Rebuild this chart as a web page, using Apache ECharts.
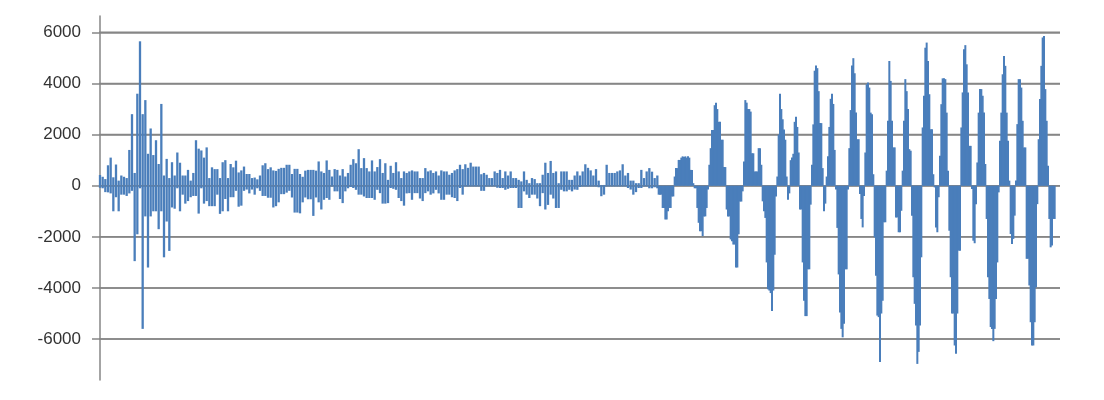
<!DOCTYPE html>
<html><head><meta charset="utf-8">
<script src="https://cdn.jsdelivr.net/npm/echarts@6/dist/echarts.min.js"></script>
<style>html,body{margin:0;padding:0;background:#fff}#c{width:1104px;height:400px}</style>
</head><body><div id="c"></div>
<script>
const tickValues = [-6000,-4000,-2000,0,2000,4000,6000];
const hiLeft = [420,350,260,800,1100,330,830,200,400,350,300,1400,2800,500,3600,5650,2800,3350,1250,2240,1200,1780,850,3200,400,1050,300,920,400,1300,900,400,400,620,200,500,1780,1450,1380,1100,1500,300,720,650,650,300,920,1000,300,850,720,980,520,600,750,460,460,300,320,250,400,800,880,650,720,600,580,660,700,700,820,820,460,660,660,460,350,590,620,620,620,590,950];
const loLeft = [-80,-100,-250,-260,-300,-1000,-450,-1000,-350,-350,-400,-300,-200,-2950,-1900,-100,-5600,-1200,-3200,-1200,-1000,-1000,-1700,-1000,-2800,-1400,-2550,-850,-900,-100,-1000,-350,-700,-600,-450,-400,-400,-1090,-100,-700,-600,-800,-800,-800,-350,-1100,-1000,-520,-1000,-450,-450,-200,-820,-780,-200,-150,-300,-150,-350,-100,-200,-400,-400,-470,-470,-850,-800,-650,-330,-330,-270,-200,-460,-1050,-1050,-1080,-650,-460,-530,-530,-1180,-460,-650];
const hiMid = [560,500,990,620,360,650,620,400,650,360,500,820,1040,880,1430,690,1080,690,560,990,560,730,1040,500,880,230,780,500,920,560,300,560,500,560,600,560,560,300,300,690,560,600,500,560,400,600,560,560,430,500,600,650,820,650,840,700,900,750,750,750,450,500,430,300,300,560,500,620,300,560,400,560,300,300,230,170,560,230,100,300,260,100,100,430,900,500,970,500,560,100,560,560,560,230,230,400,560,400,560,840,700,600,400,650,200,30,30,820,500,500,500,560,600,840,400,500,200,200,100,100,620,300,560,690,550,300,400];
const loMid = [-930,-550,-480,-550,-30,-220,-220,-520,-680,-220,-100,-50,-90,-160,-350,-350,-420,-480,-480,-480,-550,-160,-290,-700,-700,-680,-90,-120,-160,-480,-600,-780,-300,-290,-550,-290,-290,-500,-600,-290,-220,-350,-300,-160,-300,-550,-550,-350,-350,-450,-480,-600,-90,-350,-30,-30,-30,-30,-30,-30,-200,-200,-30,-30,-30,-30,-80,-90,-90,-160,-120,-90,-90,-90,-870,-870,-220,-350,-480,-350,-350,-500,-800,-290,-930,-750,-350,-500,-870,-870,-160,-220,-220,-160,-220,-150,-160,-50,-30,-30,-30,-30,-30,-30,-60,-410,-350,-30,-30,-30,-30,-30,-30,-30,-30,-90,-150,-350,-250,-90,-90,-30,-30,-100,-100,-60,-100];
const lobeWave = [
-350,-350,-350,-870,-870,-1320,-1320,-1000,-870,-870,-420,-420,
360,690,690,1010,1010,1100,1150,1120,1150,1100,1150,1100,620,620,100,
-100,-100,-870,-1450,-1780,-1780,-1970,-1200,-1200,-870,-150,
820,1470,2180,2180,3150,3250,3000,2500,2500,1800,1800,730,730,
-930,-1200,-1200,-2100,-2170,-2300,-2300,-3200,-3200,-1900,-620,-620,-220,
950,3350,3250,3000,3000,2900,1270,1270,560,560,560,1470,1470,820,
-610,-1000,-1260,-3000,-4050,-4100,-4200,-4900,-4100,-2700,-420,
360,2000,3600,3000,2600,2200,1800,360,
-550,-300,
1000,1100,1250,2500,2700,2300,1300,
-930,-930,-3000,-4500,-5100,-5100,-3270,-3270,-740,
820,2400,4500,4700,4600,3700,2450,2450,690,
-1000,-700,
360,1150,2300,3400,3600,3200,1400,
-150,-1650,-3470,-4960,-5600,-5930,-5400,-3270,-3270,-150,
1470,2960,4700,4990,4400,2860,1820,1820,
-325,-1300,-1630,-400,
1300,3970,4040,3840,2860,2800,450,
-2020,-3520,-5080,-5140,-6900,-5000,-4500,-1430,-1430,
590,2540,4880,4100,2540,1500,1500,
-1240,-1240,-1820,-1820,-980,
590,2540,4170,3700,3000,1430,1370,
-1170,-3580,-4620,-5470,-6970,-6500,-5470,-2800,
2280,3520,5400,5600,4880,3580,2210,2210,450,
-65,-1630,-1820,-450,
1170,3190,4200,4200,4170,2860,590,
-1760,-3580,-5000,-5000,-6250,-6570,-5000,-2540,-2540,
2280,3650,5340,5500,4750,3650,1560,1560,
-130,-2150,-2250,-720,
910,2860,3780,3780,3520,2860,850,
-1300,-3580,-4430,-5530,-5600,-6080,-5600,-4430,-3000,-260,
1760,2860,4360,5080,4690,2860,1760,200,
-1890,-2280,-2080,-1170,
200,2410,4170,4170,3840,2540,1500,1500,
-2860,-2860,-3900,-5340,-6250,-6250,-5340,-3970,-720,
1820,3390,4690,5800,5860,3780,2540,780,
-1300,-2410,-2340,-1300,-1300];
const thinHi = hiLeft.concat(hiMid);
const thinLo = loLeft.concat(loMid);
const lobeData = new Array(419).fill(null).concat(lobeWave);
const spikeCats = Array.from({length: 361}, (_, i) => i);
const lobeCats = Array.from({length: 721}, (_, i) => i);
const gray = '#868686', blue = '#4a7ebb';
const hiddenX = data => ({type:'category', data, boundaryGap:false, axisLine:{show:false}, axisTick:{show:false}, axisLabel:{show:false}, splitLine:{show:false}});
const bar = (data, stack, xAxisIndex, barWidth) => ({type:'bar', data, stack, xAxisIndex, barWidth, itemStyle:{color:blue}, clip:false, large:false});
const gridLine = v => ({type:'line', xAxisIndex:2, data:[[-0.83, v],[100, v]], showSymbol:false, clip:false, z:1, silent:true, lineStyle:{color:gray, width:1.5}});
const chart = echarts.init(document.getElementById('c'), null, {renderer:'canvas'});
chart.setOption({
  animation:false,
  backgroundColor:'#fff',
  grid:{left:100, top:16, width:960, height:364},
  xAxis:[hiddenX(spikeCats), hiddenX(lobeCats), {type:'value', min:0, max:100, show:false, splitLine:{show:false}}],
  yAxis:{type:'value', min:-7600, max:6640,
    axisLine:{show:true, lineStyle:{color:gray, width:1.5}},
    axisTick:{show:true, length:8, customValues:tickValues, lineStyle:{color:gray, width:1.5}},
    axisLabel:{customValues:tickValues, formatter:v => String(v), color:'#333', fontFamily:'Liberation Sans', fontSize:17, margin:19},
    splitLine:{show:true, lineStyle:{color:gray, width:1.5}}},
  series:tickValues.map(gridLine).concat([bar(thinHi,'a',0,2.3), bar(thinLo,'a',0,2.3), bar(lobeData,'b',1,2)])
});
</script></body></html>
